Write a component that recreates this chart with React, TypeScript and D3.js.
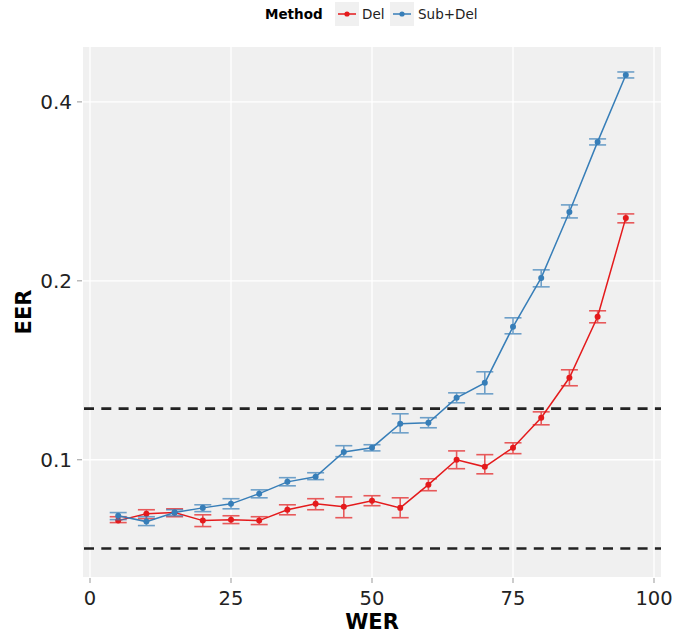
import React from "react";
import * as d3 from "d3";

// WER levels (%) at which speaker verification EER was measured
const wer = [5, 10, 15, 20, 25, 30, 35, 40, 45, 50, 55, 60, 65, 70, 75, 80, 85, 90, 95];

// Deletion-only corruption
const delMean = [0.079, 0.0811, 0.0815, 0.079, 0.0793, 0.079, 0.0824, 0.0843, 0.0834, 0.0853, 0.083, 0.0908, 0.1, 0.0973, 0.1048, 0.1177, 0.1374, 0.174, 0.2552];
const delLo = [0.0784, 0.0796, 0.0802, 0.0772, 0.0781, 0.0778, 0.0808, 0.0824, 0.0799, 0.0837, 0.0799, 0.0887, 0.0966, 0.0947, 0.1024, 0.1145, 0.1332, 0.17, 0.2504];
const delHi = [0.0802, 0.0824, 0.0827, 0.0808, 0.0805, 0.0802, 0.084, 0.086, 0.0866, 0.087, 0.0863, 0.0929, 0.1035, 0.102, 0.1068, 0.1204, 0.1417, 0.1781, 0.2592];

// Substitution + deletion corruption
const subMean = [0.0805, 0.0787, 0.0815, 0.083, 0.0843, 0.0877, 0.0918, 0.0936, 0.1031, 0.1048, 0.115, 0.1154, 0.1271, 0.1347, 0.1674, 0.2023, 0.2612, 0.3426, 0.444];
const subLo = [0.0793, 0.0775, 0.0805, 0.0818, 0.0827, 0.0863, 0.0904, 0.0926, 0.1012, 0.1035, 0.111, 0.1132, 0.1247, 0.1291, 0.1629, 0.1954, 0.2552, 0.3386, 0.4389];
const subHi = [0.0815, 0.0802, 0.0824, 0.084, 0.086, 0.089, 0.0933, 0.0951, 0.1056, 0.106, 0.1195, 0.1177, 0.1296, 0.1406, 0.1733, 0.2087, 0.2684, 0.3466, 0.4492];

// Reference EER levels
const refLines = [0.1219, 0.0709];

const xTicks = [0, 25, 50, 75, 100];
const yTicks = [0.1, 0.2, 0.4];

const methods = ["Del", "Sub+Del"];
const colors = ["#E41A1C", "#377EB8"];

const W = 677;
const H = 632;
const panel = { left: 83, right: 661, top: 47, bottom: 577 };
const FONT = "'DejaVu Sans', sans-serif";

export default function App() {
  const x = d3.scaleLinear().domain([0, 100]).range([90, 654]);
  const y = d3.scaleLog().base(2).domain([0.0635, 0.4948]).range([panel.bottom, panel.top]);

  const series = [
    { name: methods[0], color: colors[0], mean: delMean, lo: delLo, hi: delHi },
    { name: methods[1], color: colors[1], mean: subMean, lo: subLo, hi: subHi },
  ];

  const line = d3
    .line<number>()
    .x((_, i) => x(wer[i]))
    .y((d) => y(d));

  const capHalf = 8.5;

  return (
    <svg
      width={W}
      height={H}
      style={{ position: "absolute", left: 0, top: 0, background: "#fff" }}
      fontFamily={FONT}
    >
      {/* panel background */}
      <rect
        x={panel.left}
        y={panel.top}
        width={panel.right - panel.left}
        height={panel.bottom - panel.top}
        fill="#F0F0F0"
      />
      {/* grid */}
      {xTicks.map((t) => (
        <line key={"gx" + t} x1={x(t)} x2={x(t)} y1={panel.top} y2={panel.bottom} stroke="#fff" strokeWidth={1.3} />
      ))}
      {yTicks.map((t) => (
        <line key={"gy" + t} x1={panel.left} x2={panel.right} y1={y(t)} y2={y(t)} stroke="#fff" strokeWidth={1.3} />
      ))}

      {/* reference levels */}
      {refLines.map((v) => (
        <line
          key={"ref" + v}
          x1={panel.left}
          x2={panel.right}
          y1={y(v)}
          y2={y(v)}
          stroke="#222"
          strokeWidth={2.6}
          strokeDasharray="10,7.3"
          strokeDashoffset={-1}
        />
      ))}

      {/* series */}
      {series.map((s) => (
        <g key={s.name}>
          <path d={line(s.mean) || ""} fill="none" stroke={s.color} strokeWidth={1.5} />
          {s.mean.map((m, i) => (
            <circle key={"p" + i} cx={x(wer[i])} cy={y(m)} r={3} fill={s.color} />
          ))}
          <g stroke={s.color} strokeWidth={1.6} opacity={0.7}>
            {s.mean.map((_, i) => {
              const cx = x(wer[i]);
              const y0 = y(s.lo[i]);
              const y1 = y(s.hi[i]);
              return (
                <g key={"e" + i}>
                  <line x1={cx} x2={cx} y1={y0} y2={y1} />
                  <line x1={cx - capHalf} x2={cx + capHalf} y1={y0} y2={y0} />
                  <line x1={cx - capHalf} x2={cx + capHalf} y1={y1} y2={y1} />
                </g>
              );
            })}
          </g>
        </g>
      ))}

      {/* x axis */}
      {xTicks.map((t) => (
        <g key={"xt" + t}>
          <line x1={x(t)} x2={x(t)} y1={578} y2={583} stroke="#999" strokeWidth={1} />
          <text x={x(t)} y={605} textAnchor="middle" fontSize={19.5} fill="#222">
            {t}
          </text>
        </g>
      ))}
      <text x={372} y={628.5} textAnchor="middle" fontSize={21} fontWeight="bold" fill="#000">
        WER
      </text>

      {/* y axis */}
      {yTicks.map((t) => (
        <g key={"yt" + t}>
          <line x1={77} x2={82} y1={y(t)} y2={y(t)} stroke="#999" strokeWidth={1} />
          <text x={72} y={y(t)} dy="0.36em" textAnchor="end" fontSize={20} fill="#222">
            {t}
          </text>
        </g>
      ))}
      <text
        transform={`translate(31, 312) rotate(-90)`}
        textAnchor="middle"
        fontSize={21}
        fontWeight="bold"
        fill="#000"
      >
        EER
      </text>

      {/* legend */}
      <g>
        <text x={265} y={19} fontSize={13.5} fontWeight="bold" fill="#000">
          Method
        </text>
        {series.map((s, i) => {
          const bx = i === 0 ? 335 : 390;
          const tx = i === 0 ? 362 : 418;
          return (
            <g key={"lg" + s.name}>
              <rect x={bx} y={2} width={24} height={24} fill="#F0F0F0" />
              <line x1={bx + 3} x2={bx + 21} y1={14} y2={14} stroke={s.color} strokeWidth={1.5} />
              <circle cx={bx + 12} cy={14} r={2.6} fill={s.color} />
              <text x={tx} y={19} fontSize={13.5} fill="#222">
                {s.name}
              </text>
            </g>
          );
        })}
      </g>
    </svg>
  );
}
